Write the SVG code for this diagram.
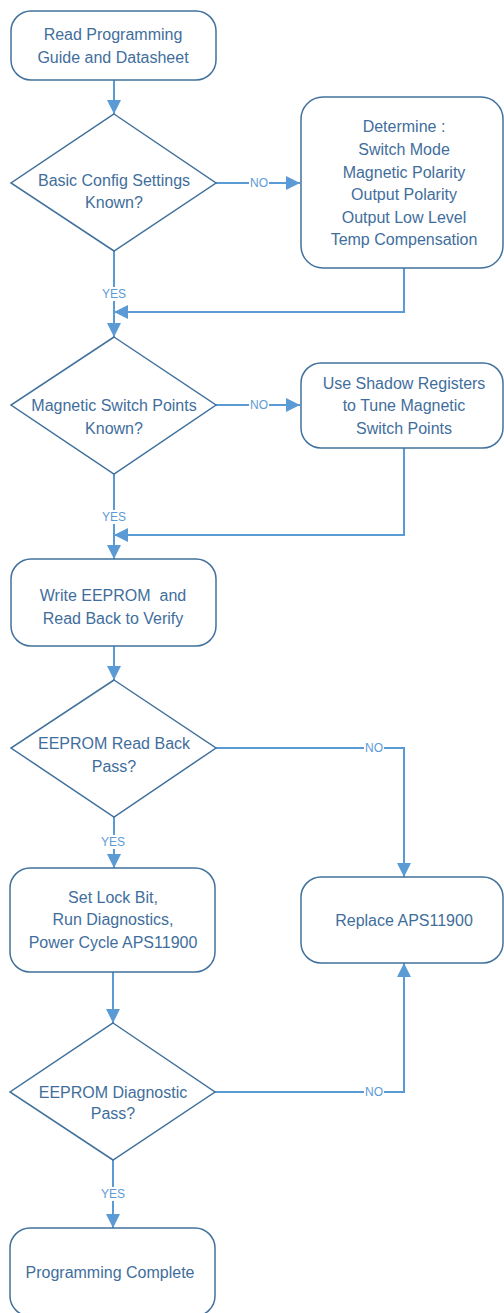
<svg xmlns="http://www.w3.org/2000/svg" width="504" height="1313" viewBox="0 0 504 1313">
<style>
.shape{fill:#fff;stroke:#41719C;stroke-width:1.5}
.t{font-family:"Liberation Sans",Arial,sans-serif;font-size:16px;fill:#3F6E9C;text-anchor:middle;white-space:pre}
.c{fill:none;stroke:#5B9BD5;stroke-width:2}
.lbl{font-family:"Liberation Sans",Arial,sans-serif;font-size:12px;fill:#5B9BD5;text-anchor:middle}
.bg{fill:#fff}
</style>
<defs>
<marker id="ah" viewBox="0 0 14 14" refX="14" refY="7" markerWidth="14" markerHeight="14" markerUnits="userSpaceOnUse" orient="auto">
<path d="M0,0 L14,7 L0,14 Z" fill="#5B9BD5"/>
</marker>
</defs>
<g id="connectors">
<path class="c" d="M114,80 V114" marker-end="url(#ah)"/>
<path class="c" d="M216,183 H300" marker-end="url(#ah)"/>
<path class="c" d="M114,251 V337" marker-end="url(#ah)"/>
<path class="c" d="M404,268 V312 H114" marker-end="url(#ah)"/>
<path class="c" d="M216,405 H300" marker-end="url(#ah)"/>
<path class="c" d="M114,474 V559" marker-end="url(#ah)"/>
<path class="c" d="M404,448 V535 H114" marker-end="url(#ah)"/>
<path class="c" d="M114,646 V680" marker-end="url(#ah)"/>
<path class="c" d="M216,748 H404 V877" marker-end="url(#ah)"/>
<path class="c" d="M114,817 V868" marker-end="url(#ah)"/>
<path class="c" d="M113,972 V1023" marker-end="url(#ah)"/>
<path class="c" d="M215,1092 H404 V963" marker-end="url(#ah)"/>
<path class="c" d="M113,1160 V1228" marker-end="url(#ah)"/>
<rect class="bg" x="249" y="177" width="20" height="12"/>
<text class="lbl" x="259" y="187">NO</text>
<rect class="bg" x="249" y="399" width="20" height="12"/>
<text class="lbl" x="259" y="409">NO</text>
<rect class="bg" x="364" y="742" width="20" height="12"/>
<text class="lbl" x="374" y="752">NO</text>
<rect class="bg" x="364" y="1086" width="20" height="12"/>
<text class="lbl" x="374" y="1096">NO</text>
<rect class="bg" x="100" y="287" width="28" height="14"/>
<text class="lbl" x="114" y="298">YES</text>
<rect class="bg" x="100" y="510" width="28" height="14"/>
<text class="lbl" x="114" y="521">YES</text>
<rect class="bg" x="100" y="835" width="28" height="14"/>
<text class="lbl" x="113" y="846">YES</text>
<rect class="bg" x="99" y="1187" width="28" height="14"/>
<text class="lbl" x="113" y="1198">YES</text>
</g>
<g id="n1">
<rect class="shape" x="11" y="11" width="205" height="69" rx="20"/>
<text class="t" x="113" y="40">Read Programming</text>
<text class="t" x="113" y="63">Guide and Datasheet</text>
</g>
<g id="d1">
<polygon class="shape" points="114,114 216,183 114,251 11,183"/>
<text class="t" x="114" y="186">Basic Config Settings</text>
<text class="t" x="114" y="208">Known?</text>
</g>
<g id="n2">
<rect class="shape" x="301" y="97" width="202" height="171" rx="22"/>
<text class="t" x="404" y="132">Determine :</text>
<text class="t" x="404" y="155">Switch Mode</text>
<text class="t" x="404" y="178">Magnetic Polarity</text>
<text class="t" x="404" y="200">Output Polarity</text>
<text class="t" x="404" y="223">Output Low Level</text>
<text class="t" x="404" y="245">Temp Compensation</text>
</g>
<g id="d2">
<polygon class="shape" points="114,337 216,405 114,474 11,405"/>
<text class="t" x="114" y="411">Magnetic Switch Points</text>
<text class="t" x="114" y="434">Known?</text>
</g>
<g id="n3">
<rect class="shape" x="301" y="363" width="202" height="85" rx="20"/>
<text class="t" x="404" y="389">Use Shadow Registers</text>
<text class="t" x="404" y="411">to Tune Magnetic</text>
<text class="t" x="404" y="434">Switch Points</text>
</g>
<g id="n4">
<rect class="shape" x="11" y="559" width="205" height="87" rx="20"/>
<text class="t" x="113" y="601">Write EEPROM  and</text>
<text class="t" x="113" y="624">Read Back to Verify</text>
</g>
<g id="d3">
<polygon class="shape" points="114,680 216,748 114,817 11,748"/>
<text class="t" x="114" y="749">EEPROM Read Back</text>
<text class="t" x="114" y="772">Pass?</text>
</g>
<g id="n5">
<rect class="shape" x="10" y="868" width="205" height="104" rx="20"/>
<text class="t" x="113" y="903">Set Lock Bit,</text>
<text class="t" x="113" y="925">Run Diagnostics,</text>
<text class="t" x="113" y="948">Power Cycle APS11900</text>
</g>
<g id="n6">
<rect class="shape" x="301" y="877" width="202" height="86" rx="20"/>
<text class="t" x="404" y="926">Replace APS11900</text>
</g>
<g id="d4">
<polygon class="shape" points="113,1023 215,1092 113,1160 10,1092"/>
<text class="t" x="113" y="1098">EEPROM Diagnostic</text>
<text class="t" x="113" y="1119">Pass?</text>
</g>
<g id="n7">
<rect class="shape" x="10" y="1228" width="205" height="88" rx="20"/>
<text class="t" x="110" y="1278">Programming Complete</text>
</g>
</svg>
